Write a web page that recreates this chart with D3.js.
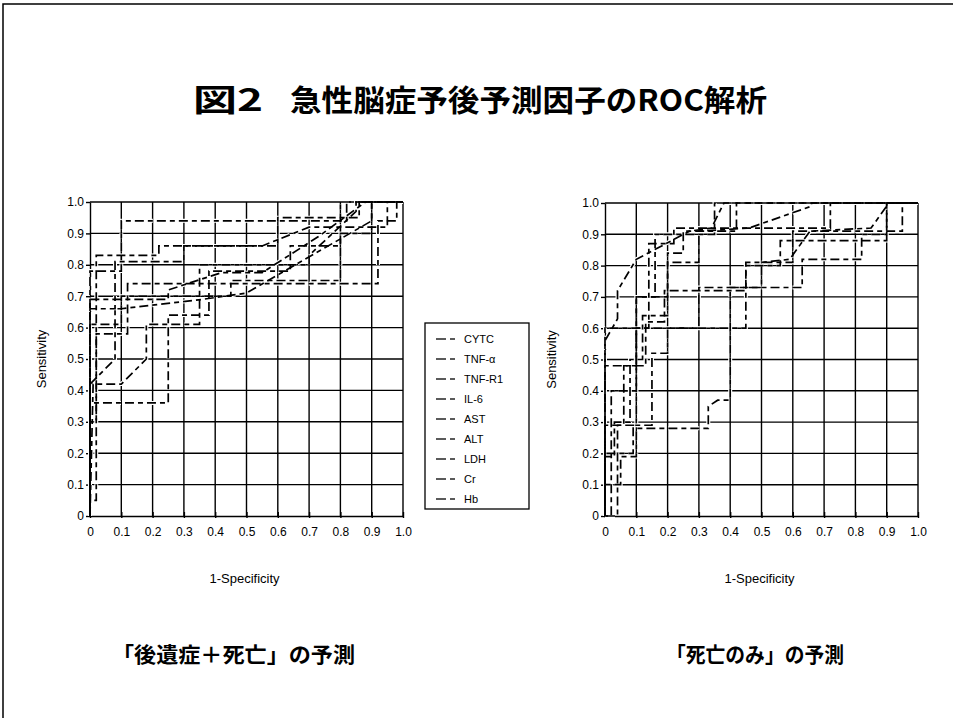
<!DOCTYPE html>
<html>
<head>
<meta charset="utf-8">
<script src="https://cdn.jsdelivr.net/npm/d3@7/dist/d3.min.js"></script>
<style>
  html, body { margin: 0; padding: 0; background: #fff; }
  svg { display: block; }
</style>
</head>
<body>
<script>
// ---- data ----
const seriesNames = ["CYTC", "TNF-α", "TNF-R1", "IL-6", "AST", "ALT", "LDH", "Cr", "Hb"];
const xTickValues = [0, 0.1, 0.2, 0.3, 0.4, 0.5, 0.6, 0.7, 0.8, 0.9, 1.0];
const xTickLabels = ["0", "0.1", "0.2", "0.3", "0.4", "0.5", "0.6", "0.7", "0.8", "0.9", "1.0"];
const yTickValues = [0, 0.1, 0.2, 0.3, 0.4, 0.5, 0.6, 0.7, 0.8, 0.9, 1.0];
const yTickLabels = ["0", "0.1", "0.2", "0.3", "0.4", "0.5", "0.6", "0.7", "0.8", "0.9", "1.0"];

// ROC points [1-specificity, sensitivity] — sequelae + death
const seqCYTC  = [[0,0],[0,0.42],[0.08,0.5],[0.08,0.66],[0.1,0.66],[0.36,0.69],[0.5,0.71],[0.9,0.94],[0.9,1],[1,1]];
const seqTNFa  = [[0,0],[0,0.69],[0.25,0.69],[0.25,0.72],[0.42,0.775],[0.55,0.775],[0.73,0.89],[0.88,1],[1,1]];
const seqTNFR1 = [[0,0],[0,0.36],[0.25,0.36],[0.25,0.64],[0.38,0.64],[0.38,0.78],[0.64,0.78],[0.64,0.86],[0.8,0.86],[0.8,1],[1,1]];
const seqIL6   = [[0,0],[0.01,0.42],[0.1,0.42],[0.18,0.5],[0.18,0.61],[0.35,0.61],[0.35,0.8],[0.7,0.8],[0.7,0.83],[0.85,0.97],[0.85,1],[1,1]];
const seqAST   = [[0,0],[0,0.78],[0.1,0.78],[0.1,0.94],[0.82,0.94],[0.82,1],[1,1]];
const seqALT   = [[0,0],[0,0.66],[0.08,0.66],[0.08,0.81],[0.3,0.81],[0.3,0.86],[0.6,0.86],[0.6,0.95],[0.86,0.95],[0.86,1],[1,1]];
const seqLDH   = [[0,0],[0,0.61],[0.1,0.61],[0.1,0.7],[0.45,0.7],[0.45,0.75],[0.8,0.75],[0.8,0.9],[0.9,0.9],[0.9,1],[1,1]];
const seqCr    = [[0,0],[0,0.3],[0.02,0.3],[0.02,0.83],[0.22,0.83],[0.22,0.86],[0.55,0.86],[0.7,0.92],[0.95,0.92],[0.95,1],[1,1]];
const seqHb    = [[0,0],[0,0.05],[0.02,0.05],[0.02,0.58],[0.12,0.58],[0.12,0.74],[0.92,0.74],[0.92,0.94],[0.98,0.94],[0.98,1],[1,1]];

// ROC points [1-specificity, sensitivity] — death only
const dthCYTC  = [[0,0],[0,0.56],[0.04,0.63],[0.04,0.72],[0.055,0.745],[0.1,0.82],[0.27,0.91],[0.34,0.92],[0.38,1],[1,1]];
const dthTNFa  = [[0,0],[0,0.1],[0.05,0.1],[0.05,0.19],[0.1,0.19],[0.1,0.28],[0.33,0.28],[0.33,0.35],[0.36,0.37],[0.4,0.37],[0.4,0.73],[0.5,0.73],[0.5,0.81],[0.59,0.82],[0.655,0.91],[0.85,0.92],[0.9,0.99],[0.9,1],[1,1]];
const dthTNFR1 = [[0,0],[0,0.6],[0.45,0.6],[0.45,0.81],[0.6,0.81],[0.6,0.91],[0.95,0.91],[0.95,1],[1,1]];
const dthIL6   = [[0,0],[0,0.19],[0.03,0.19],[0.03,0.3],[0.08,0.3],[0.08,0.5],[0.12,0.5],[0.12,0.64],[0.2,0.64],[0.2,0.81],[0.3,0.81],[0.3,0.91],[0.46,0.92],[0.66,0.99],[0.66,1],[1,1]];
const dthAST   = [[0,0],[0,0.29],[0.06,0.29],[0.06,0.48],[0.1,0.48],[0.1,0.7],[0.16,0.7],[0.16,0.9],[0.35,0.9],[0.35,1],[1,1]];
const dthALT   = [[0,0],[0.02,0],[0.02,0.4],[0.1,0.4],[0.1,0.6],[0.14,0.6],[0.14,0.87],[0.22,0.87],[0.22,0.92],[0.72,0.92],[0.72,1],[1,1]];
const dthLDH   = [[0,0],[0,0.48],[0.13,0.48],[0.13,0.62],[0.19,0.62],[0.19,0.72],[0.45,0.72],[0.45,0.8],[0.56,0.8],[0.56,0.88],[0.9,0.88],[0.9,1],[1,1]];
const dthCr    = [[0,0],[0.04,0],[0.04,0.29],[0.1,0.29],[0.1,0.7],[0.2,0.7],[0.2,0.84],[0.25,0.84],[0.25,0.91],[0.42,0.91],[0.42,1],[1,1]];
const dthHb    = [[0,0],[0,0.2],[0.09,0.2],[0.09,0.29],[0.15,0.29],[0.15,0.52],[0.2,0.52],[0.2,0.6],[0.3,0.6],[0.3,0.73],[0.63,0.73],[0.63,0.82],[0.82,0.82],[0.82,0.9],[0.9,0.9],[0.9,1],[1,1]];

const sequelaeCurves = [seqCYTC, seqTNFa, seqTNFR1, seqIL6, seqAST, seqALT, seqLDH, seqCr, seqHb];
const deathCurves = [dthCYTC, dthTNFa, dthTNFR1, dthIL6, dthAST, dthALT, dthLDH, dthCr, dthHb];

// ---- drawing ----
const W = 953, H = 718;
const svg = d3.select("body").append("svg").attr("width", W).attr("height", H);
const latin = "'Liberation Sans', Arial, sans-serif";
const cjk = "'Noto Sans CJK JP', 'Noto Sans CJK SC', sans-serif";
const dash = "9,4,5,4";

// page border
svg.append("path").attr("d", `M3,${H} L3,4 L${W},4`)
  .attr("fill", "none").attr("stroke", "#000").attr("stroke-width", 1.5);

// title
svg.append("text").attr("x", 193).attr("y", 111)
  .attr("font-family", cjk).attr("font-weight", 700).attr("font-size", 31)
  .attr("textLength", 70).attr("lengthAdjust", "spacingAndGlyphs")
  .text("図2");
svg.append("text").attr("x", 290).attr("y", 111)
  .attr("font-family", cjk).attr("font-weight", 700).attr("font-size", 30)
  .attr("textLength", 477).attr("lengthAdjust", "spacingAndGlyphs")
  .text("急性脳症予後予測因子のROC解析");

function drawPanel(left, right, top, bottom, curves, yLabelX, subtitle, subX, subW) {
  const x = d3.scaleLinear().domain([0, 1]).range([left, right]);
  const y = d3.scaleLinear().domain([0, 1]).range([bottom, top]);
  const g = svg.append("g");

  // grid
  g.selectAll("line.gx").data(xTickValues.slice(1)).join("line")
    .attr("x1", d => x(d)).attr("x2", d => x(d)).attr("y1", y(0)).attr("y2", y(1))
    .attr("stroke", "#000").attr("stroke-width", 1.4);
  g.selectAll("line.gy").data(yTickValues.slice(1)).join("line")
    .attr("x1", x(0)).attr("x2", x(1)).attr("y1", d => y(d)).attr("y2", d => y(d))
    .attr("stroke", "#000").attr("stroke-width", 1.4);

  // axes
  const xAxis = d3.axisBottom(x).tickValues(xTickValues)
    .tickFormat((d, i) => xTickLabels[i]).tickSize(4).tickSizeOuter(0);
  const yAxis = d3.axisLeft(y).tickValues(yTickValues)
    .tickFormat((d, i) => yTickLabels[i]).tickSize(4).tickSizeOuter(0);
  const ax = g.append("g").attr("transform", `translate(0,${bottom})`).call(xAxis);
  ax.selectAll("text").attr("font-family", latin).attr("font-size", 12).attr("fill", "#000").attr("dy", "1.05em");
  ax.selectAll("path, line").attr("stroke", "#000").attr("stroke-width", 1.4);
  ax.selectAll(".tick line").attr("y1", -4).attr("y2", 2);
  const ay = g.append("g").attr("transform", `translate(${left},0)`).call(yAxis);
  ay.selectAll("text").attr("font-family", latin).attr("font-size", 12).attr("fill", "#000").attr("x", -6);
  ay.selectAll("path, line").attr("stroke", "#000").attr("stroke-width", 1.4);

  // curves: white halo under a black dashed stroke
  const line = d3.line().x(d => x(d[0])).y(d => y(d[1]));
  curves.forEach((c, i) => {
    g.append("path").attr("d", line(c)).attr("fill", "none")
      .attr("stroke", "#fff").attr("stroke-width", 4)
      .attr("stroke-dasharray", dash).attr("stroke-dashoffset", i * 3);
  });
  curves.forEach((c, i) => {
    g.append("path").attr("d", line(c)).attr("fill", "none")
      .attr("stroke", "#000").attr("stroke-width", 1.7)
      .attr("stroke-dasharray", dash).attr("stroke-dashoffset", i * 3);
  });

  // axis titles
  g.append("text")
    .attr("transform", `translate(${yLabelX},${(top + bottom) / 2}) rotate(-90)`)
    .attr("text-anchor", "middle").attr("font-family", latin).attr("font-size", 13)
    .text("Sensitivity");
  g.append("text").attr("x", (left + right) / 2 - 2).attr("y", 583)
    .attr("text-anchor", "middle").attr("font-family", latin).attr("font-size", 13)
    .text("1-Specificity");

  // subtitle
  svg.append("text").attr("x", subX).attr("y", 662)
    .attr("font-family", cjk).attr("font-weight", 700).attr("font-size", 21)
    .attr("textLength", subW).attr("lengthAdjust", "spacingAndGlyphs")
    .text(subtitle);
}

drawPanel(90, 403, 202, 516, sequelaeCurves, 46, "「後遺症＋死亡」の予測", 112, 243);
drawPanel(605, 918, 203, 516, deathCurves, 556, "「死亡のみ」の予測", 666, 178);

// legend
const lg = svg.append("g");
lg.append("rect").attr("x", 425).attr("y", 323).attr("width", 104).attr("height", 186)
  .attr("fill", "#fff").attr("stroke", "#000").attr("stroke-width", 1.3);
const ly = d3.scalePoint().domain(seriesNames).range([339, 499]);
seriesNames.forEach(n => {
  lg.append("line").attr("x1", 436).attr("x2", 446).attr("y1", ly(n)).attr("y2", ly(n))
    .attr("stroke", "#000").attr("stroke-width", 1.3);
  lg.append("line").attr("x1", 450).attr("x2", 455).attr("y1", ly(n)).attr("y2", ly(n))
    .attr("stroke", "#000").attr("stroke-width", 1.3);
  lg.append("text").attr("x", 464).attr("y", ly(n)).attr("dy", "0.35em")
    .attr("font-family", latin).attr("font-size", 11).text(n);
});
</script>
</body>
</html>
